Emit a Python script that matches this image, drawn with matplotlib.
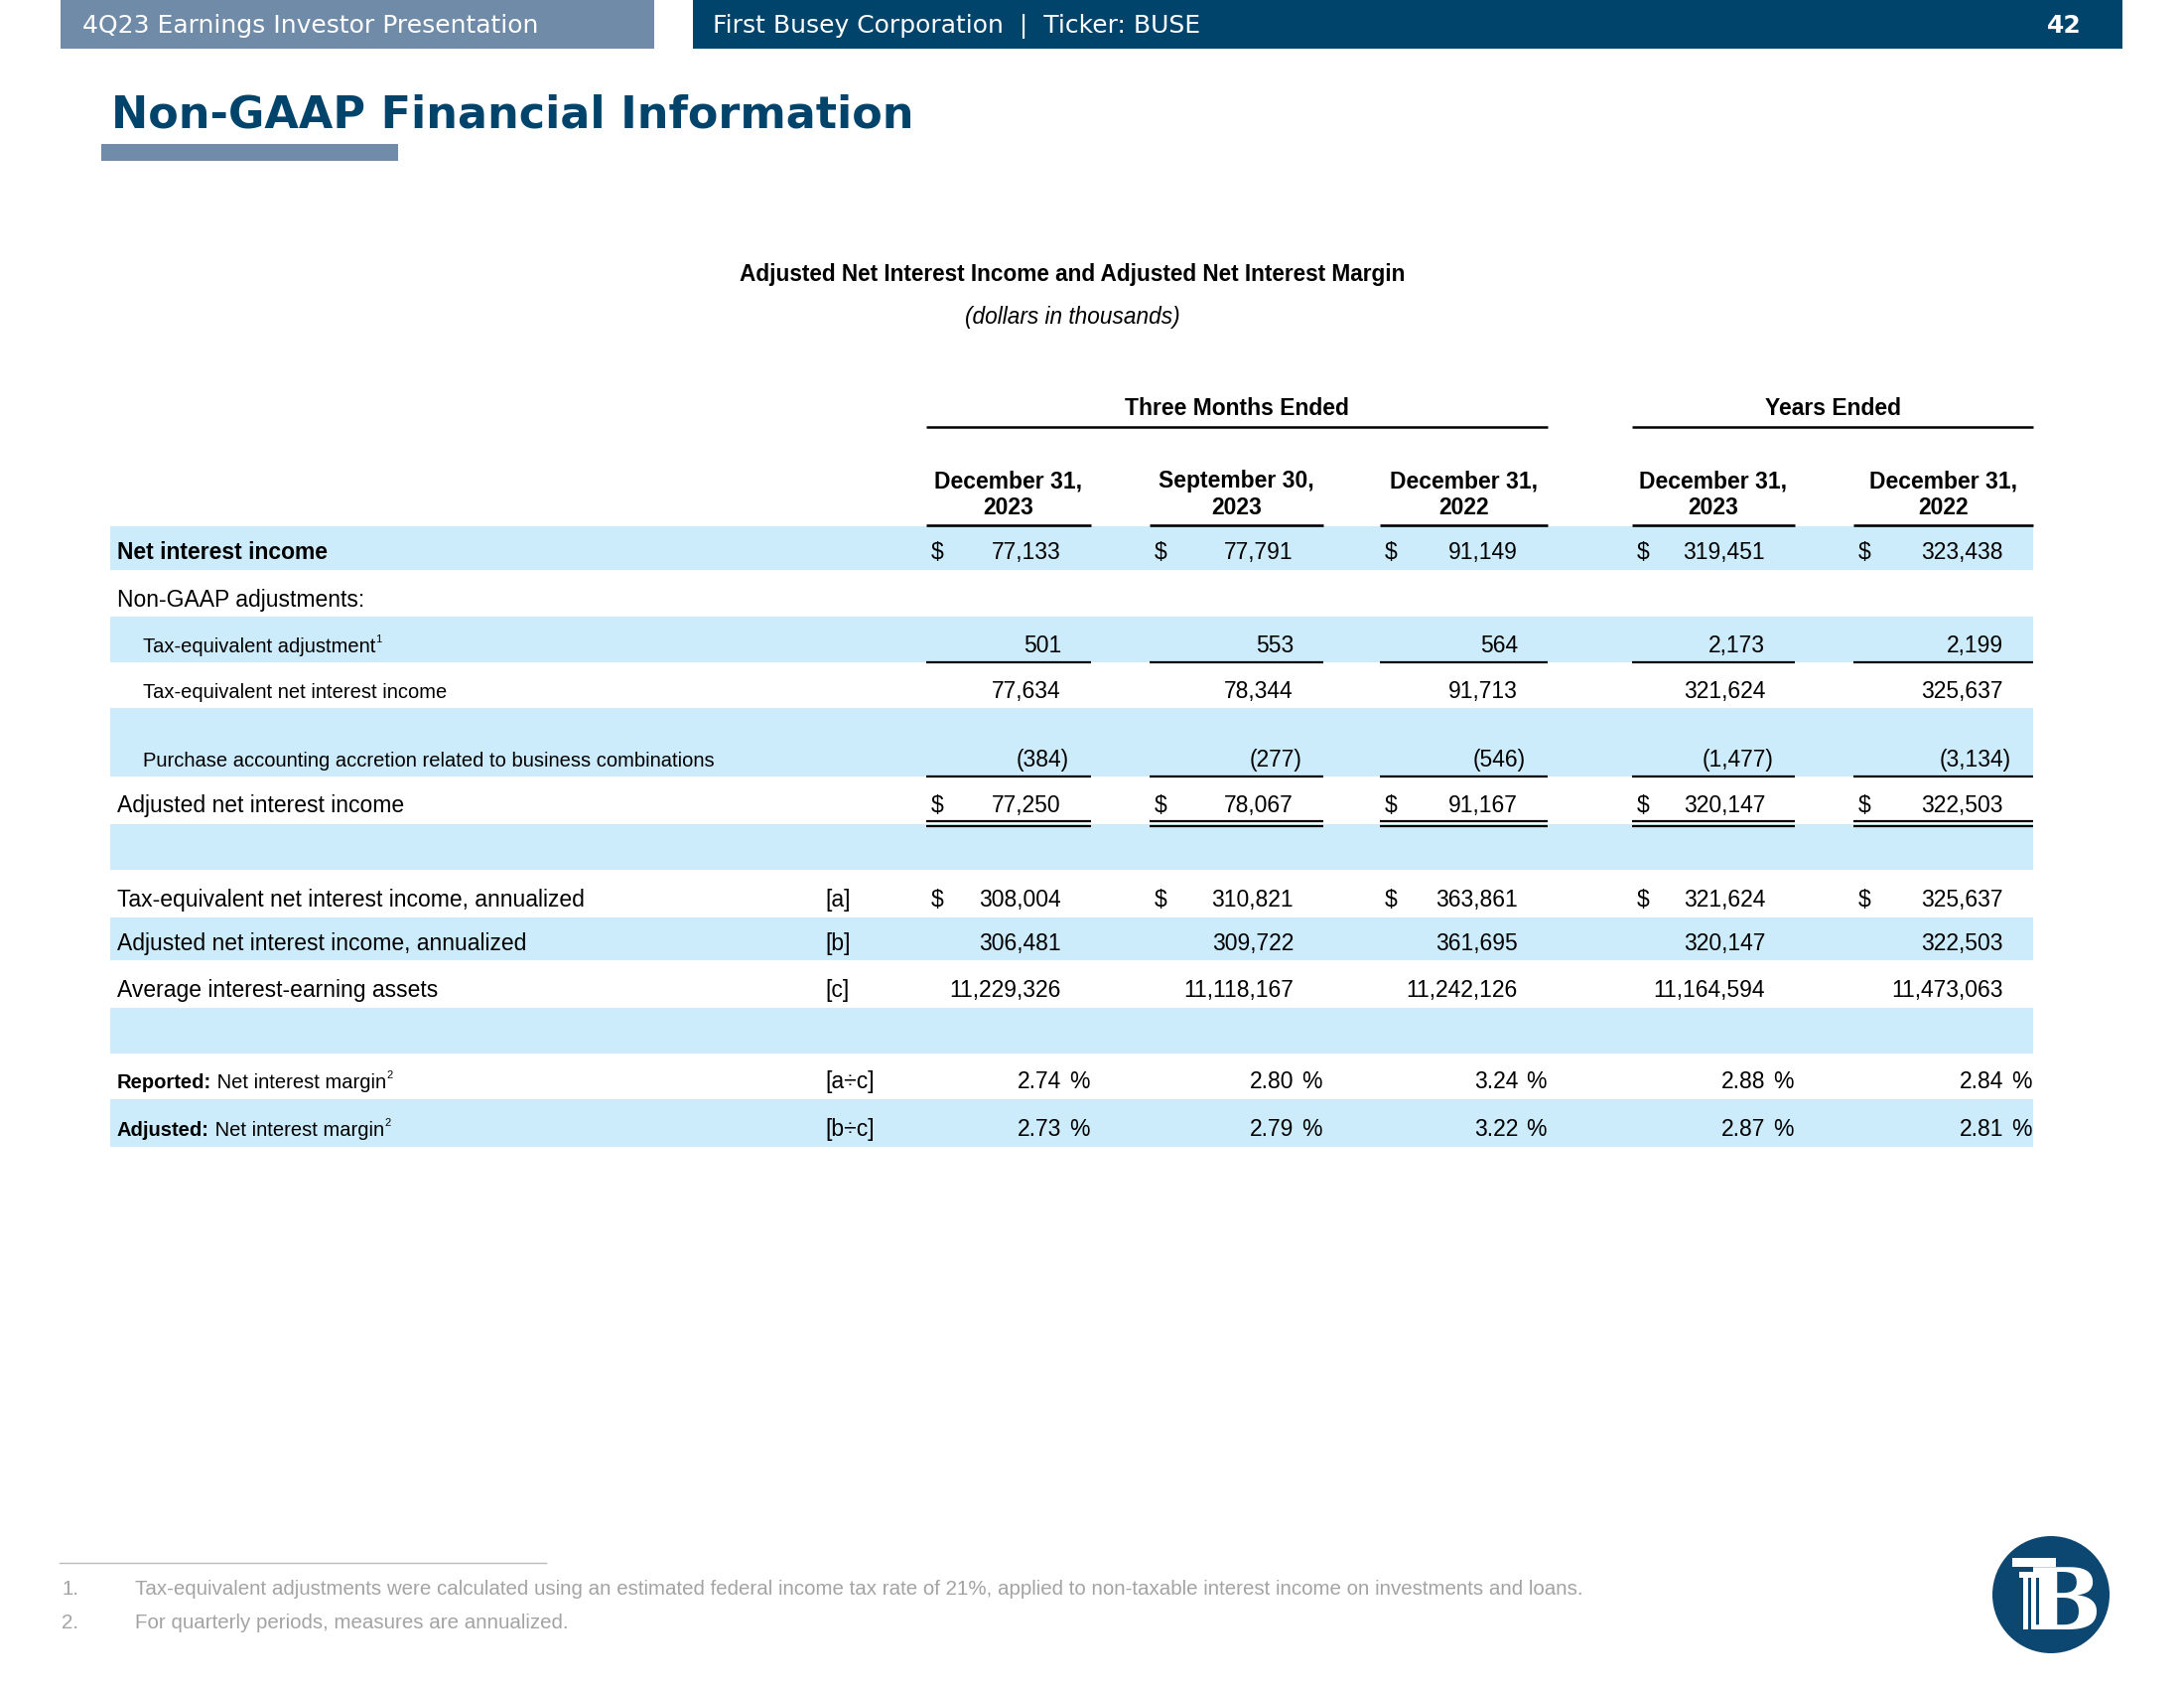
import matplotlib
matplotlib.use("Agg")
import matplotlib.pyplot as plt
from matplotlib.patches import Rectangle, Circle

# 表のデータ (dollars in thousands)
group_titles = ["Three Months Ended", "Years Ended"]
col_headers = ["December 31,\n2023", "September 30,\n2023", "December 31,\n2022",
               "December 31,\n2023", "December 31,\n2022"]

net_interest_income = [77133, 77791, 91149, 319451, 323438]
tax_equiv_adjustment = [501, 553, 564, 2173, 2199]
tax_equiv_nii = [77634, 78344, 91713, 321624, 325637]
purchase_accretion = [-384, -277, -546, -1477, -3134]
adjusted_nii = [77250, 78067, 91167, 320147, 322503]
tax_equiv_nii_annualized = [308004, 310821, 363861, 321624, 325637]
adjusted_nii_annualized = [306481, 309722, 361695, 320147, 322503]
avg_earning_assets = [11229326, 11118167, 11242126, 11164594, 11473063]
reported_nim = [2.74, 2.80, 3.24, 2.88, 2.84]
adjusted_nim = [2.73, 2.79, 3.22, 2.87, 2.81]

footnotes = [
    "Tax-equivalent adjustments were calculated using an estimated federal income tax rate of 21%, "
    "applied to non-taxable interest income on investments and loans.",
    "For quarterly periods, measures are annualized.",
]

# 色
NAVY = "#00436B"
SLATE = "#6F8BA8"
BAND = "#CCEBFB"
GREY = "#A3A3A3"

TABLE_FONT = "Liberation Sans"
BIG = 16.5
SMALL = 14.5

# 列の位置 (ピクセル)
col_left = [933, 1158, 1390, 1644, 1867]
col_right = [1099, 1333, 1559, 1808, 2048]
num_right = [r - 30 for r in col_right]
table_left, table_right = 111, 2048
label_x, indent_x, ref_x = 118, 144, 831


def fmt(v, pct=False):
    if pct:
        return f"{v:.2f}"
    if v < 0:
        return f"({-v:,})"
    return f"{v:,}"


# 行の定義
rows = [
    dict(label="Net interest income", vals=net_interest_income, base=563, band=(530, 574),
         size=BIG, bold=True, dollar=True),
    dict(label="Non-GAAP adjustments:", vals=None, base=611, size=BIG),
    dict(label="Tax-equivalent adjustment", sup="1", vals=tax_equiv_adjustment, base=657,
         band=(621, 667), size=SMALL, indent=True, under=667),
    dict(label="Tax-equivalent net interest income", vals=tax_equiv_nii, base=703, size=SMALL, indent=True),
    dict(label="Purchase accounting accretion related to business combinations", vals=purchase_accretion,
         base=772, band=(713, 782), size=SMALL, indent=True, under=782),
    dict(label="Adjusted net interest income", vals=adjusted_nii, base=818, size=BIG, dollar=True,
         double=(827, 832)),
    dict(label=None, vals=None, band=(830, 876)),
    dict(label="Tax-equivalent net interest income, annualized", ref="[a]", vals=tax_equiv_nii_annualized,
         base=913, size=BIG, dollar=True),
    dict(label="Adjusted net interest income, annualized", ref="[b]", vals=adjusted_nii_annualized,
         base=957, band=(924, 967), size=BIG),
    dict(label="Average interest-earning assets", ref="[c]", vals=avg_earning_assets, base=1004, size=BIG),
    dict(label=None, vals=None, band=(1015, 1061)),
    dict(label="Net interest margin", prefix="Reported:", sup="2", ref="[a÷c]", vals=reported_nim,
         base=1096, size=SMALL, pct=True),
    dict(label="Net interest margin", prefix="Adjusted:", sup="2", ref="[b÷c]", vals=adjusted_nim,
         base=1144, band=(1107, 1155), size=SMALL, pct=True),
]

fig = plt.figure(figsize=(22, 17), dpi=100)
ax = fig.add_axes([0, 0, 1, 1])
ax.set_xlim(0, 2200)
ax.set_ylim(1700, 0)
ax.axis("off")

# ヘッダー
ax.add_patch(Rectangle((61, 0), 598, 49, color=SLATE, lw=0))
ax.add_patch(Rectangle((698, 0), 1440, 49, color=NAVY, lw=0))
ax.text(83, 33, "4Q23 Earnings Investor Presentation", color="white", fontsize=18,
        family="DejaVu Sans", va="baseline")
ax.text(718, 33, "First Busey Corporation  |  Ticker: BUSE", color="white", fontsize=18,
        family="DejaVu Sans", va="baseline")
ax.text(2097, 33, "42", color="white", fontsize=18, weight="bold", family="DejaVu Sans",
        va="baseline", ha="right")

# タイトル
ax.text(112, 128, "Non-GAAP Financial Information", color=NAVY, fontsize=32, weight="bold",
        family="DejaVu Sans", va="baseline")
ax.add_patch(Rectangle((102, 145), 299, 17, color="#718CAA", lw=0))

# 表のタイトル
ax.text(1080, 283, "Adjusted Net Interest Income and Adjusted Net Interest Margin", fontsize=16.3,
        weight="bold", family=TABLE_FONT, ha="center", va="baseline")
ax.text(1080, 326, "(dollars in thousands)", fontsize=16.3, style="italic", family=TABLE_FONT,
        ha="center", va="baseline")

# グループ見出し
group_spans = [(col_left[0], col_right[2]), (col_left[3], col_right[4])]
for title, (x0, x1) in zip(group_titles, group_spans):
    ax.text((x0 + x1) / 2, 418, title, fontsize=BIG, weight="bold", family=TABLE_FONT,
            ha="center", va="baseline")
    ax.plot([x0, x1], [430, 430], color="black", lw=1.8, solid_capstyle="butt")

# 列見出し
for h, x0, x1 in zip(col_headers, col_left, col_right):
    line1, line2 = h.split("\n")
    xc = (x0 + x1) / 2
    ax.text(xc, 491, line1, fontsize=BIG, weight="bold", family=TABLE_FONT, ha="center", va="baseline")
    ax.text(xc, 518, line2, fontsize=BIG, weight="bold", family=TABLE_FONT, ha="center", va="baseline")

# 帯
for r in rows:
    if "band" in r:
        y0, y1 = r["band"]
        ax.add_patch(Rectangle((table_left, y0), table_right - table_left, y1 - y0, color=BAND, lw=0, zorder=0))

for x0, x1 in zip(col_left, col_right):
    ax.plot([x0, x1], [529, 529], color="black", lw=1.9, solid_capstyle="butt", zorder=3)

# 行
for r in rows:
    if r["label"] is None:
        continue
    y = r["base"]
    size = r["size"]
    x = indent_x if r.get("indent") else label_x
    if "prefix" in r:
        p = ax.text(x, y, r["prefix"], fontsize=size, weight="bold", family=TABLE_FONT, va="baseline")
        t = ax.annotate(" " + r["label"], xy=(1, 0), xycoords=p, fontsize=size, family=TABLE_FONT,
                        va="bottom", ha="left")
    else:
        t = ax.text(x, y, r["label"], fontsize=size, family=TABLE_FONT, va="baseline",
                    weight="bold" if r.get("bold") else "normal")
    if "sup" in r:
        ax.annotate(r["sup"], xy=(1, 1), xycoords=t, xytext=(0, 2), textcoords="offset points",
                    fontsize=size * 0.55, family=TABLE_FONT, va="top", ha="left")
    if "ref" in r:
        ax.text(ref_x, y, r["ref"], fontsize=BIG, family=TABLE_FONT, va="baseline")
    if r["vals"] is None:
        continue
    for i, v in enumerate(r["vals"]):
        s = fmt(v, r.get("pct", False))
        xr = num_right[i]
        if r.get("pct"):
            ax.text(xr, y, s, fontsize=BIG, family=TABLE_FONT, ha="right", va="baseline")
            ax.text(xr + 8, y, "%", fontsize=BIG, family=TABLE_FONT, ha="left", va="baseline")
        elif v < 0:
            ax.text(xr + 8, y, s, fontsize=BIG, family=TABLE_FONT, ha="right", va="baseline")
        else:
            ax.text(xr, y, s, fontsize=BIG, family=TABLE_FONT, ha="right", va="baseline")
        if r.get("dollar"):
            ax.text(col_left[i] + 5, y, "$", fontsize=BIG, family=TABLE_FONT, ha="left", va="baseline")
    for x0, x1 in zip(col_left, col_right):
        if "under" in r:
            ax.plot([x0, x1], [r["under"], r["under"]], color="black", lw=1.6, solid_capstyle="butt", zorder=3)
        if "double" in r:
            for yy in r["double"]:
                ax.plot([x0, x1], [yy, yy], color="black", lw=1.6, solid_capstyle="butt", zorder=3)

# 脚注
ax.plot([60, 550], [1574, 1574], color="#BBBBBB", lw=1.0)
for k, (note, yb) in enumerate(zip(footnotes, [1606, 1640])):
    ax.text(62, yb, f"{k + 1}.", fontsize=14.8, color=GREY, family=TABLE_FONT, va="baseline")
    ax.text(136, yb, note, fontsize=14.8, color=GREY, family=TABLE_FONT, va="baseline")

# ロゴ
ax.add_patch(Circle((2066, 1606), 59, color="#0B4771", lw=0))
ax.text(2080, 1641, "B", fontsize=62, weight="bold", family="DejaVu Serif", color="white",
        ha="center", va="baseline")
ax.add_patch(Rectangle((2027, 1569), 44, 9, color="white", lw=0))
ax.add_patch(Rectangle((2034, 1583), 30, 6, color="white", lw=0))
ax.add_patch(Rectangle((2037, 1589), 24, 52, color="#0B4771", lw=0))
for fx in [2038, 2046, 2054]:
    ax.add_patch(Rectangle((fx, 1589), 5, 52, color="white", lw=0))

fig.savefig("out.png", dpi=100, facecolor="white")
